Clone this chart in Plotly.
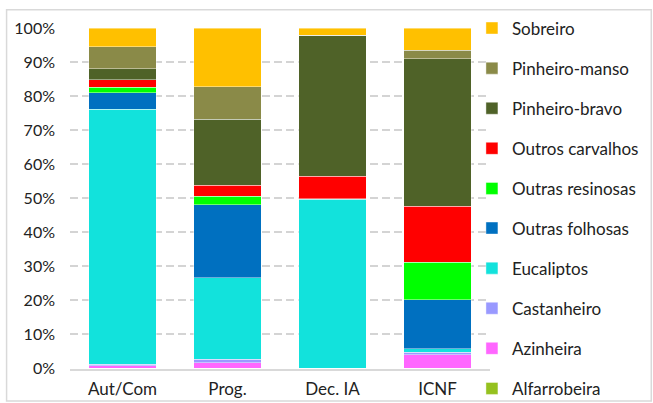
import plotly.graph_objects as go

categories = ["Aut/Com", "Prog.", "Dec. IA", "ICNF"]

# percentages per species, bottom of the stack first
alfarrobeira = [0.0, 0.0, 0.0, 0.0]
azinheira = [0.8, 1.7, 0.0, 4.0]
castanheiro = [0.5, 1.0, 0.0, 0.8]
eucaliptos = [74.9, 23.8, 49.7, 1.0]
outras_folhosas = [4.8, 21.4, 0.2, 14.4]
outras_resinosas = [1.6, 2.5, 0.0, 11.0]
outros_carvalhos = [2.2, 3.2, 6.6, 16.5]
pinheiro_bravo = [3.2, 19.2, 41.4, 43.2]
pinheiro_manso = [6.5, 9.5, 0.0, 2.6]
sobreiro = [5.5, 17.2, 2.1, 6.5]

series = [
    ("Alfarrobeira", alfarrobeira, "#95C11F"),
    ("Azinheira", azinheira, "#FF66FF"),
    ("Castanheiro", castanheiro, "#9999FF"),
    ("Eucaliptos", eucaliptos, "#12E2DC"),
    ("Outras folhosas", outras_folhosas, "#0070C0"),
    ("Outras resinosas", outras_resinosas, "#00FF00"),
    ("Outros carvalhos", outros_carvalhos, "#FF0000"),
    ("Pinheiro-bravo", pinheiro_bravo, "#4F6228"),
    ("Pinheiro-manso", pinheiro_manso, "#8A8A48"),
    ("Sobreiro", sobreiro, "#FFC000"),
]

fig = go.Figure()

for i, (name, values, color) in enumerate(series):
    fig.add_trace(
        go.Bar(
            x=categories,
            y=values,
            name=name,
            legendgroup=name,
            legendrank=100 - i,
            # legend split in two halves, a single one gets a scrollbar
            legend="legend2" if i < 5 else "legend",
            marker=dict(color=color, line=dict(color="rgba(255,255,255,0.6)", width=0.7)),
        )
    )

legend_style = dict(
    x=0.957,
    xanchor="left",
    yanchor="top",
    traceorder="grouped",
    tracegroupgap=15,
    font=dict(size=17),
    itemwidth=30,
    bgcolor="rgba(0,0,0,0)",
)

# plot area spans the full height; the y axis domain puts 0% at 368 px and 100% at 28 px
fig.update_layout(
    barmode="stack",
    barnorm="percent",
    bargap=0.36,
    width=653,
    height=403,
    margin=dict(l=70, r=163, t=0, b=0, autoexpand=False),
    plot_bgcolor="white",
    paper_bgcolor="white",
    font=dict(family="Lato, Noto Sans, sans-serif", size=17, color="#222222"),
    showlegend=True,
    legend=dict(y=0.974, **legend_style),
    legend2=dict(y=0.4777, **legend_style),
    shapes=[
        dict(
            type="rect",
            xref="paper",
            yref="paper",
            x0=-0.151,
            x1=1.384,
            y0=0.005,
            y1=0.976,
            line=dict(color="#D9D9D9", width=1.5),
            layer="below",
        )
    ],
)

fig.update_yaxes(
    domain=[0.0856, 0.9305],
    range=[0, 100],
    dtick=10,
    ticksuffix="%",
    tickfont=dict(size=16),
    ticklabelstandoff=14,
    showgrid=True,
    gridcolor="#D4D4D4",
    griddash="8px,4px",
    gridwidth=1.5,
    zeroline=False,
    ticks="",
)
fig.update_xaxes(
    showline=True,
    linecolor="#D9D9D9",
    linewidth=1.5,
    ticks="",
    ticklabelstandoff=4,
)

fig.write_html(
    "out.html",
    config={"displayModeBar": False},
    post_script="document.body.style.margin='0';",
)
